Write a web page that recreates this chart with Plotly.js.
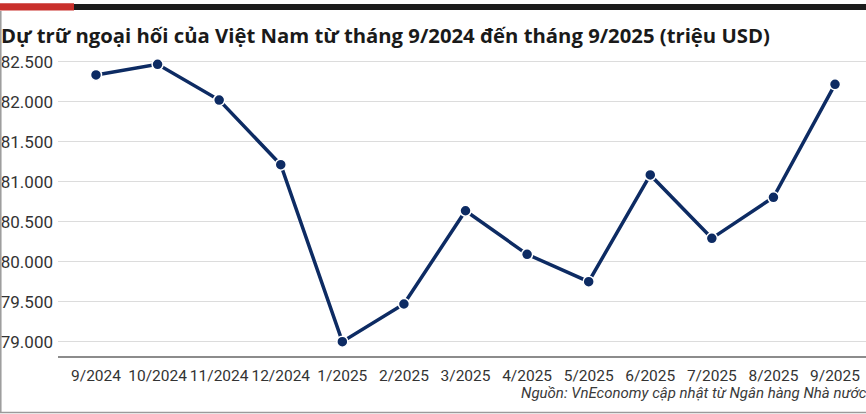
<!DOCTYPE html>
<html>
<head>
<meta charset="utf-8">
<script src="https://cdn.plot.ly/plotly-3.0.1.min.js"></script>
<style>
  html, body { margin: 0; padding: 0; background: #fff; overflow: hidden; }
  #chart { width: 866px; height: 414px; }
</style>
</head>
<body>
<div id="chart"></div>
<script>
// tháng (trục x)
var months = ['9/2024', '10/2024', '11/2024', '12/2024', '1/2025', '2/2025', '3/2025',
              '4/2025', '5/2025', '6/2025', '7/2025', '8/2025', '9/2025'];
// dự trữ ngoại hối, triệu USD
var reserves = [82335, 82467, 82021, 81213, 79000, 79471, 80637,
                80092, 79750, 81084, 80292, 80805, 82217];
var yTicks = [79000, 79500, 80000, 80500, 81000, 81500, 82000, 82500];

var titleText = 'Dự trữ ngoại hối của Việt Nam từ tháng 9/2024 đến tháng 9/2025 (triệu USD)';
var sourceText = 'Nguồn: VnEconomy cập nhật từ Ngân hàng Nhà nước';

var W = 866, H = 414;
var L = 58, R = 0, T = 55, B = 58;
var tickFamily = 'Roboto, sans-serif';

// pixel -> paper helpers for the decorations
function px(x) { return (x - L) / (W - L - R); }
function py(y) { return (H - B - y) / (H - T - B); }

var trace = {
  x: months,
  y: reserves,
  type: 'scatter',
  mode: 'lines+markers',
  line: { color: '#0d2b63', width: 3.5 },
  marker: { color: '#0d2b63', size: 11, line: { color: '#ffffff', width: 1.5 } },
  hoverinfo: 'x+y'
};

var layout = {
  width: W,
  height: H,
  margin: { l: L, r: R, t: T, b: B, pad: 0 },
  paper_bgcolor: '#ffffff',
  plot_bgcolor: '#ffffff',
  separators: ',.',
  showlegend: false,
  title: {
    text: '<b>' + titleText + '</b>',
    font: { family: "'Open Sans', sans-serif", size: 20.3, color: '#1a1a1a' },
    xref: 'container', x: 1 / W, xanchor: 'left',
    yref: 'container', y: 1 - 36 / H, yanchor: 'middle'
  },
  xaxis: {
    type: 'category',
    range: [-0.617, 12.503],
    showgrid: false,
    zeroline: false,
    showline: true,
    linecolor: '#8c8c8c',
    linewidth: 1.5,
    ticks: '',
    tickangle: 0,
    ticklabelstandoff: 5,
    tickfont: { family: tickFamily, size: 15.5, color: '#333333' },
    fixedrange: true
  },
  yaxis: {
    range: [78821, 82584],
    tickvals: yTicks,
    tickformat: ',d',
    showgrid: true,
    gridcolor: '#dcdcdc',
    gridwidth: 1.5,
    zeroline: false,
    showline: false,
    ticks: '',
    ticklabelstandoff: 4,
    tickfont: { family: tickFamily, size: 17, color: '#333333' },
    fixedrange: true
  },
  shapes: [
    { type: 'rect', xref: 'paper', yref: 'paper', x0: px(0), x1: px(74), y0: py(10.5), y1: py(3.3),
      fillcolor: '#c9302c', line: { width: 0 }, layer: 'above' },
    { type: 'rect', xref: 'paper', yref: 'paper', x0: px(74), x1: px(866), y0: py(10), y1: py(4),
      fillcolor: '#1c1c1c', line: { width: 0 }, layer: 'above' },
    { type: 'line', xref: 'paper', yref: 'paper', x0: px(0.8), x1: px(0.8), y0: py(413), y1: py(11),
      line: { color: '#9a9a9a', width: 1.5 } },
    { type: 'line', xref: 'paper', yref: 'paper', x0: px(0), x1: px(866), y0: py(412.5), y1: py(412.5),
      line: { color: '#9a9a9a', width: 1.5 } }
  ],
  annotations: [
    { text: '<i>' + sourceText + '</i>', showarrow: false,
      xref: 'paper', yref: 'paper', x: px(519), xanchor: 'left', y: py(393), yanchor: 'middle',
      font: { family: tickFamily, size: 15, color: '#3a3a3a' } }
  ]
};

Plotly.newPlot('chart', [trace], layout, { displayModeBar: false, staticPlot: true });
</script>
</body>
</html>
